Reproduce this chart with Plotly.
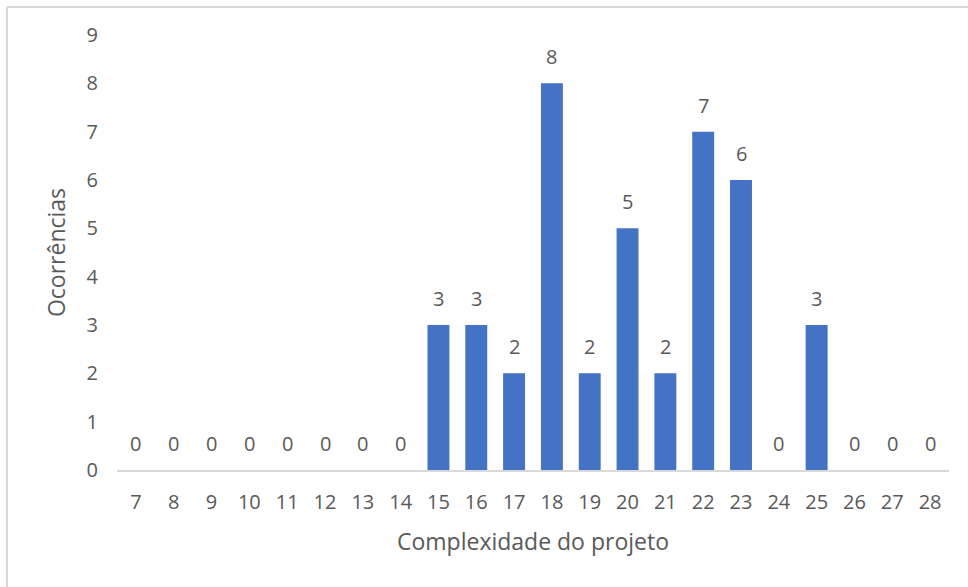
import plotly.graph_objects as go

# Project complexity scores and how many times each occurred
complexity = list(range(7, 29))
occurrences = [0, 0, 0, 0, 0, 0, 0, 0, 3, 3, 2, 8, 2, 5, 2, 7, 6, 0, 3, 0, 0, 0]
y_ticks = list(range(0, 10))

BAR_COLOR = "#4472C4"
TEXT_COLOR = "#595959"
FONT = "Open Sans"

W, H = 968, 587
L, R, T, B = 117, 19, 35, 117
pw, ph = W - L - R, H - T - B

fig = go.Figure(
    go.Bar(
        x=complexity,
        y=occurrences,
        marker=dict(color=BAR_COLOR, line=dict(width=0)),
        hoverinfo="x+y",
    )
)

# value labels above each bar
for c, v in zip(complexity, occurrences):
    fig.add_annotation(
        x=c, y=v, xref="x", yref="y",
        text=str(v), showarrow=False,
        yanchor="bottom", yshift=11,
        font=dict(family=FONT, size=20, color=TEXT_COLOR),
    )

# light frame around the chart area
bx = (7 - L) / pw
by = 1 + (T - 7) / ph
frame = dict(color="#D9D9D9", width=2)
fig.add_shape(type="line", xref="paper", yref="paper",
              x0=bx, x1=bx, y0=-0.5, y1=by, line=frame)
fig.add_shape(type="line", xref="paper", yref="paper",
              x0=bx, x1=1.2, y0=by, y1=by, line=frame)

fig.update_layout(
    width=W, height=H,
    margin=dict(l=L, r=R, t=T, b=B),
    paper_bgcolor="white",
    plot_bgcolor="white",
    bargap=0.42,
    showlegend=False,
    font=dict(family=FONT, size=20, color=TEXT_COLOR),
    xaxis=dict(
        range=[complexity[0] - 0.5, complexity[-1] + 0.5],
        tickvals=complexity,
        showgrid=False,
        zeroline=False,
        showline=True, linecolor="#D9D9D9", linewidth=2,
        ticks="", ticklabelstandoff=13,
        tickfont=dict(family=FONT, size=20, color=TEXT_COLOR),
        title=dict(text="Complexidade do projeto", standoff=20,
                   font=dict(family=FONT, size=23, color=TEXT_COLOR)),
    ),
    yaxis=dict(
        range=[0, 9],
        tickvals=y_ticks,
        showgrid=False,
        zeroline=False,
        showline=False,
        ticks="", ticklabelstandoff=18,
        tickfont=dict(family=FONT, size=20, color=TEXT_COLOR),
        title=dict(text="Ocorrências", standoff=14,
                   font=dict(family=FONT, size=23, color=TEXT_COLOR)),
    ),
)

fig.write_html("out.html")
